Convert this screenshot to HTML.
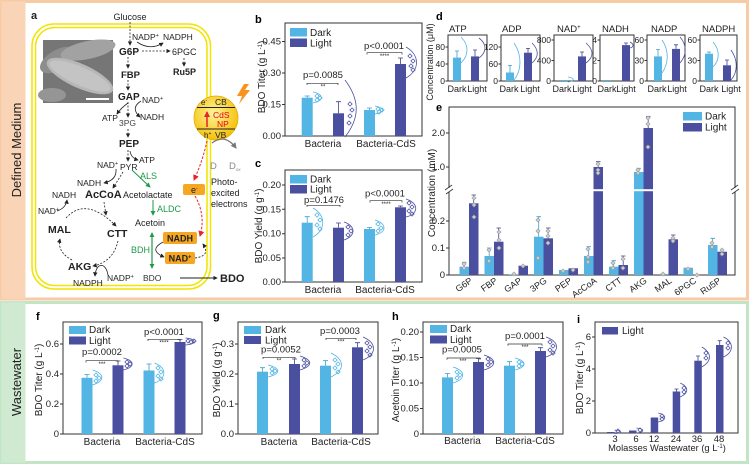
<!DOCTYPE html>
<html><head><meta charset="utf-8"><title>Figure</title>
<style>
html,body{margin:0;padding:0;background:#fff;width:750px;height:467px;overflow:hidden}
svg{display:block;font-family:"Liberation Sans",Arial,sans-serif}
.ax{fill:none;stroke:#333;stroke-width:1}
.tk{font-size:9.5px;fill:#222}
.tks{font-size:8.5px;fill:#222}
.dk{fill:#53b5e4}
.lt{fill:#4b4fa0}
.ed{stroke:#3a9fd0;stroke-width:0.8;fill:none}
.el{stroke:#3c418f;stroke-width:0.8;fill:none}
.vd{stroke:#53b5e4;stroke-width:0.8;fill:none}
.vl{stroke:#4b4fa0;stroke-width:0.8;fill:none}
.br{stroke:#333;stroke-width:0.7;fill:none}
.pl{font-size:9.5px;fill:#222;text-anchor:middle}
.st{font-size:6px;fill:#222;text-anchor:middle}
.lg{font-size:10px;fill:#222}
.xl{font-size:10px;fill:#222;text-anchor:middle}
.yl{font-size:10px;fill:#222;text-anchor:middle}
.dsh{stroke:#222;stroke-width:0.8;fill:none;stroke-dasharray:2 1.5}
.ln{stroke:#222;stroke-width:0.8;fill:none}
.gd{fill:#cfcfcf;stroke:#9a9a9a;stroke-width:0.6}
</style></head><body>
<svg width="750" height="467" viewBox="0 0 750 467" xmlns="http://www.w3.org/2000/svg">
<defs>
<marker id="ah" viewBox="0 0 6 6" refX="5" refY="3" markerUnits="userSpaceOnUse" markerWidth="4.5" markerHeight="4.5" orient="auto"><path d="M0,0L6,3L0,6Z" fill="#222"/></marker>
<marker id="ahr" viewBox="0 0 6 6" refX="5" refY="3" markerUnits="userSpaceOnUse" markerWidth="6" markerHeight="6" orient="auto"><path d="M0,0L6,3L0,6Z" fill="#e8242a"/></marker>
<marker id="ahg" viewBox="0 0 6 6" refX="5" refY="3" markerUnits="userSpaceOnUse" markerWidth="5" markerHeight="5" orient="auto-start-reverse"><path d="M0,0L6,3L0,6Z" fill="#1f9a48"/></marker>
<marker id="ahy" viewBox="0 0 6 6" refX="5" refY="3" markerUnits="userSpaceOnUse" markerWidth="6" markerHeight="6" orient="auto"><path d="M0,0L6,3L0,6Z" fill="#777"/></marker>
<radialGradient id="cds" cx="45%" cy="40%" r="65%"><stop offset="0" stop-color="#fff59a"/><stop offset="1" stop-color="#f3bb00"/></radialGradient>
<path id="dm" d="M0,-2.1L2.1,0L0,2.1L-2.1,0Z"/>
</defs>
<rect width="750" height="467" fill="#fff"/>

<!-- ===== Top section frame ===== -->
<rect x="1.5" y="1.5" width="746" height="297.5" fill="#fff" stroke="#f7cba6" stroke-width="3"/>
<rect x="1.5" y="1.5" width="24" height="297.5" fill="#f9d4b6"/>
<text transform="translate(21,150) rotate(-90)" text-anchor="middle" font-size="13" fill="#222">Defined Medium</text>

<!-- ===== Bottom section frame ===== -->
<rect x="1.5" y="302.5" width="746" height="160" fill="#fff" stroke="#c3e5c5" stroke-width="3"/>
<rect x="1.5" y="302.5" width="24" height="160" fill="#d0ead1"/>
<text transform="translate(21,382) rotate(-90)" text-anchor="middle" font-size="13" fill="#222">Wastewater</text>

<!-- ===== Panel a ===== -->
<rect x="32" y="24" width="178.5" height="265" rx="22" fill="none" stroke="#f2e400" stroke-width="1.5"/>
<rect x="35.5" y="27.5" width="171.5" height="258" rx="19" fill="none" stroke="#f2e400" stroke-width="1.5"/>
<!-- SEM image -->
<rect x="43" y="40" width="70" height="63" fill="#767676"/>
<ellipse cx="58" cy="60" rx="20" ry="10" transform="rotate(-30 58 60)" fill="#8d8d8d"/>
<ellipse cx="88" cy="50" rx="28" ry="9" transform="rotate(-12 88 50)" fill="#a2a2a2"/>
<ellipse cx="80" cy="76" rx="36" ry="12" transform="rotate(24 80 76)" fill="#b7b7b7"/>
<ellipse cx="80" cy="76" rx="33" ry="9" transform="rotate(24 80 76)" fill="#c4c4c4"/>
<ellipse cx="52" cy="95" rx="14" ry="7" fill="#959595"/>
<line x1="86" y1="99" x2="109" y2="99" stroke="#fff" stroke-width="2"/>

<g font-size="9" fill="#222">
<text x="31" y="19" font-size="11" font-weight="bold">a</text>
<text x="130" y="20" text-anchor="middle">Glucose</text>
<text x="132" y="40" font-size="8.5">NADP<tspan font-size="5.5" dy="-3">+</tspan></text>
<text x="163" y="40" font-size="8.5">NADPH</text>
<text x="119" y="55" font-size="10" font-weight="bold">G6P</text>
<text x="172" y="55">6PGC</text>
<text x="173" y="75" font-weight="bold">Ru5P</text>
<text x="121" y="78" font-size="9.5" font-weight="bold">FBP</text>
<text x="118" y="100" font-size="10" font-weight="bold">GAP</text>
<text x="142" y="103" font-size="8.5">NAD<tspan font-size="5.5" dy="-3">+</tspan></text>
<text x="102" y="121" font-size="8.5">ATP</text>
<text x="140" y="120" font-size="8.5">NADH</text>
<text x="119" y="126" font-size="8.5" fill="#444">3PG</text>
<text x="119" y="147" font-size="10" font-weight="bold">PEP</text>
<text x="139" y="163" font-size="8.5">ATP</text>
<text x="97" y="168" font-size="8.5">NAD<tspan font-size="5.5" dy="-3">+</tspan></text>
<text x="120" y="170" font-size="8.5">PYR</text>
<text x="140" y="179" fill="#1f9a48">ALS</text>
<text x="77" y="186" font-size="8.5">NADH</text>
<text x="52" y="198" font-size="8.5">NADH</text>
<text x="85" y="198" font-size="11" font-weight="bold">AcCoA</text>
<text x="123" y="198">Acetolactate</text>
<text x="38" y="214" font-size="8.5">NAD<tspan font-size="5.5" dy="-3">+</tspan></text>
<text x="48" y="233" font-size="10.5" font-weight="bold">MAL</text>
<text x="107" y="237" font-size="10.5" font-weight="bold">CTT</text>
<text x="157" y="212" fill="#1f9a48">ALDC</text>
<text x="135" y="226">Acetoin</text>
<text x="131" y="253" fill="#1f9a48">BDH</text>
<text x="68" y="270" font-size="10.5" font-weight="bold">AKG</text>
<text x="73" y="286" font-size="8.5">NADPH</text>
<text x="107" y="281" font-size="8.5">NADP<tspan font-size="5.5" dy="-3">+</tspan></text>
<text x="143" y="281" font-size="8.5" fill="#333">BDO</text>
<text x="220" y="282" font-size="11" font-weight="bold">BDO</text>
<text x="211" y="185">Photo-</text>
<text x="211" y="196">excited</text>
<text x="211" y="207">electrons</text>
</g>
<!-- pathway arrows -->
<line x1="130" y1="22" x2="130" y2="45" class="dsh" marker-end="url(#ah)"/>
<path d="M137,42 Q150,51 163,43" class="ln" marker-end="url(#ah)"/>
<line x1="142" y1="51" x2="170" y2="51" class="dsh" marker-end="url(#ah)"/>
<line x1="184" y1="58" x2="184" y2="66" class="dsh" marker-end="url(#ah)"/>
<line x1="128" y1="57" x2="128" y2="68" class="dsh" marker-end="url(#ah)"/>
<line x1="128" y1="80" x2="128" y2="90" class="dsh" marker-end="url(#ah)"/>
<line x1="128" y1="102" x2="128" y2="117" class="dsh" marker-end="url(#ah)"/>
<path d="M141,101 Q130,108 140,117" class="ln" marker-end="url(#ah)"/>
<path d="M128,103 Q121,108 117,114" class="ln" marker-end="url(#ah)"/>
<line x1="128" y1="129" x2="128" y2="137" class="dsh" marker-end="url(#ah)"/>
<line x1="128" y1="150" x2="128" y2="161" class="dsh" marker-end="url(#ah)"/>
<path d="M130,151 Q131,158 138,160" class="ln" marker-end="url(#ah)"/>
<line x1="123" y1="172" x2="113" y2="188" class="dsh" marker-end="url(#ah)"/>
<path d="M116,169 Q117,180 104,183" class="ln" marker-end="url(#ah)"/>
<path d="M57,211 Q66,208 67,200" class="ln" marker-end="url(#ah)"/>
<line x1="104" y1="202" x2="106" y2="215" class="dsh" marker-end="url(#ah)"/>
<path d="M66,218 Q86,196 116,226" class="dsh" marker-end="url(#ah)"/>
<path d="M118,241 Q113,262 93,266" class="dsh" marker-end="url(#ah)"/>
<path d="M72,260 Q57,252 60,239" class="dsh" marker-end="url(#ah)"/>
<path d="M108,275 C106,262 96,262 95,276" class="ln" marker-end="url(#ah)"/>
<line x1="180" y1="278" x2="217" y2="278" stroke="#222" stroke-width="0.9" marker-end="url(#ah)"/>
<!-- green -->
<line x1="132" y1="170" x2="150" y2="187" stroke="#1f9a48" stroke-width="1" marker-end="url(#ahg)"/>
<line x1="153" y1="200" x2="153" y2="215" stroke="#1f9a48" stroke-width="1" marker-end="url(#ahg)"/>
<line x1="152" y1="233" x2="152" y2="268" stroke="#1f9a48" stroke-width="1.2" marker-start="url(#ahg)" marker-end="url(#ahg)"/>
<!-- NADH / NAD+ boxes -->
<rect x="163" y="232" width="34" height="12" rx="2" fill="#f5a623"/>
<text x="180" y="241.5" text-anchor="middle" font-size="9" font-weight="bold" fill="#222">NADH</text>
<rect x="165" y="252" width="30" height="12" rx="2" fill="#f5a623"/>
<text x="180" y="261.5" text-anchor="middle" font-size="9" font-weight="bold" fill="#222">NAD<tspan font-size="5.5" dy="-3">+</tspan></text>
<path d="M163,242 Q148,250 164,257" class="ln" marker-end="url(#ah)"/>
<path d="M195,258 Q211,256 203,244" class="dsh" marker-end="url(#ah)"/>
<!-- e- box -->
<rect x="183" y="184" width="22" height="11" rx="2" fill="#f5a623"/>
<text x="191" y="193" font-size="9" fill="#222">e<tspan font-size="5.5" dy="-3">-</tspan></text>
<path d="M207,141 Q203,160 194,180" fill="none" stroke="#e8242a" stroke-width="1" stroke-dasharray="2.5 1.5" marker-end="url(#ahr)"/>
<path d="M195,196 Q206,215 200,236" fill="none" stroke="#e8242a" stroke-width="1" stroke-dasharray="2.5 1.5" marker-end="url(#ahr)"/>
<!-- CdS -->
<polygon points="244,84 237,96 242,96 239,104 250,90 245,90 249,84" fill="#f7931e"/>
<circle cx="216" cy="118" r="22" fill="url(#cds)" stroke="#e5b000" stroke-width="0.8"/>
<line x1="197" y1="107.5" x2="235" y2="107.5" stroke="#222" stroke-width="1"/>
<line x1="197" y1="129" x2="235" y2="129" stroke="#222" stroke-width="1"/>
<text x="201" y="105" font-size="8" fill="#222">e<tspan font-size="5" dy="-3">-</tspan></text>
<text x="215" y="105" font-size="8.5" fill="#222">CB</text>
<line x1="207" y1="127" x2="207" y2="112" stroke="#e8001c" stroke-width="1.3" marker-end="url(#ahr)"/>
<text x="213" y="118" font-size="8.5" fill="#e8001c">CdS</text>
<text x="217" y="127" font-size="8.5" fill="#e8001c">NP</text>
<text x="204" y="138" font-size="8" fill="#222">h<tspan font-size="5" dy="-3">+</tspan></text>
<text x="215" y="138" font-size="8.5" fill="#222">VB</text>
<path d="M212,143 Q225,133 236,148" fill="none" stroke="#777" stroke-width="1.3" marker-end="url(#ahy)"/>
<text x="210" y="169" font-size="9.5" fill="#888">D</text>
<text x="229" y="169" font-size="9.5" fill="#888">D<tspan font-size="4.5" dy="2">ox</tspan></text>

<!-- ===== Panel b ===== -->
<text x="255" y="23" font-size="11" font-weight="bold">b</text>
<rect x="285" y="23" width="137" height="113" class="ax"/>
<path d="M285,136h-3M285,104.5h-3M285,73h-3M285,41.5h-3" class="ax"/>
<g class="tk" text-anchor="end"><text x="281" y="139">0.00</text><text x="281" y="107.5">0.15</text><text x="281" y="76">0.30</text><text x="281" y="44.5">0.45</text></g>
<text transform="translate(265,77) rotate(-90)" class="yl">BDO Titer (g L<tspan font-size="6" dy="-3">-1</tspan><tspan dy="3">)</tspan></text>
<rect x="301.7" y="97.7" width="11" height="38.3" class="dk"/>
<rect x="333" y="113.3" width="11" height="22.7" class="lt"/>
<rect x="364" y="110" width="11" height="26" class="dk"/>
<rect x="395" y="64" width="11" height="72" class="lt"/>
<path d="M307.2,97.7V96M304.7,96h5" class="ed"/>
<path d="M338.5,113.3V101.7M336,101.7h5" class="el"/>
<path d="M369.5,110V108M367,108h5" class="ed"/>
<path d="M400.5,64V58M398,58h5" class="el"/>
<path d="M313,92 C324,94 324,101 313,103" class="vd"/>
<use href="#dm" x="317" y="96" class="vd"/><use href="#dm" x="320" y="98" class="vd"/><use href="#dm" x="317" y="100" class="vd"/>
<path d="M345,80 C360,100 360,118 345,137" class="vl"/>
<use href="#dm" x="350" y="104" class="vl"/><use href="#dm" x="352" y="110" class="vl"/><use href="#dm" x="350" y="116" class="vl"/><use href="#dm" x="349" y="123" class="vl"/>
<path d="M375,106 C385,108 385,112 375,114" class="vd"/>
<use href="#dm" x="378" y="109" class="vd"/><use href="#dm" x="382" y="110" class="vd"/><use href="#dm" x="379" y="112" class="vd"/>
<path d="M406,47 C420,55 420,70 406,78" class="vl"/>
<use href="#dm" x="410" y="56" class="vl"/><use href="#dm" x="413" y="61" class="vl"/><use href="#dm" x="411" y="66" class="vl"/><use href="#dm" x="413" y="70" class="vl"/>
<rect x="290" y="28" width="17" height="8.5" class="dk"/><text x="310" y="36" class="lg">Dark</text>
<rect x="290" y="38.5" width="17" height="8.5" class="lt"/><text x="310" y="46.5" class="lg">Light</text>
<text x="323" y="78" class="pl">p=0.0085</text>
<path d="M307,85V83.3H338V85" class="br"/><text x="323" y="88.5" class="st">**</text>
<text x="384" y="49" class="pl">p&lt;0.0001</text>
<path d="M367,54.5V52.7H402V54.5" class="br"/><text x="384.5" y="58" class="st">****</text>
<text x="323" y="147" class="xl">Bacteria</text>
<text x="386" y="147" class="xl">Bacteria-CdS</text>

<!-- ===== Panel c ===== -->
<text x="255" y="167" font-size="11" font-weight="bold">c</text>
<rect x="285" y="170" width="137" height="112" class="ax"/>
<path d="M285,282h-3M285,258h-3M285,233.7h-3M285,209.3h-3M285,185h-3" class="ax"/>
<g class="tk" text-anchor="end"><text x="281" y="285">0.00</text><text x="281" y="261">0.05</text><text x="281" y="236.7">0.10</text><text x="281" y="212.3">0.15</text><text x="281" y="188">0.20</text></g>
<text transform="translate(262,226) rotate(-90)" class="yl">BDO Yield (g g<tspan font-size="6" dy="-3">-1</tspan><tspan dy="3">)</tspan></text>
<rect x="301.7" y="222.7" width="11" height="59.3" class="dk"/>
<rect x="333" y="227.7" width="11" height="54.3" class="lt"/>
<rect x="364" y="229" width="11" height="53" class="dk"/>
<rect x="395" y="207.3" width="11" height="74.7" class="lt"/>
<path d="M307.2,222.7V216.7M304.7,216.7h5" class="ed"/>
<path d="M338.5,227.7V223M336,223h5" class="el"/>
<path d="M369.5,229V227.5M367,227.5h5" class="ed"/>
<path d="M400.5,207.3V206M398,206h5" class="el"/>
<path d="M313,208 C326,215 326,230 313,237" class="vd"/>
<use href="#dm" x="317" y="215" class="vd"/><use href="#dm" x="320" y="220" class="vd"/><use href="#dm" x="317" y="225" class="vd"/><use href="#dm" x="320" y="229" class="vd"/>
<path d="M344,222 C356,226 356,236 344,240" class="vl"/>
<use href="#dm" x="348" y="227" class="vl"/><use href="#dm" x="351" y="231" class="vl"/><use href="#dm" x="348" y="235" class="vl"/>
<path d="M375,220 C387,224 387,232 375,235" class="vd"/>
<use href="#dm" x="378" y="224" class="vd"/><use href="#dm" x="381" y="228" class="vd"/><use href="#dm" x="378" y="231" class="vd"/>
<path d="M406,199 C419,203 419,214 406,217" class="vl"/>
<use href="#dm" x="409" y="203" class="vl"/><use href="#dm" x="412" y="207" class="vl"/><use href="#dm" x="409" y="211" class="vl"/><use href="#dm" x="412" y="214" class="vl"/>
<rect x="290" y="175" width="17" height="8.5" class="dk"/><text x="310" y="182.5" class="lg">Dark</text>
<rect x="290" y="185" width="17" height="8.5" class="lt"/><text x="310" y="192.5" class="lg">Light</text>
<text x="324" y="203" class="pl">p=0.1476</text>
<path d="M307,207V205.3H340V207" class="br"/>
<text x="385" y="196.7" class="pl">p&lt;0.0001</text>
<path d="M370,202.5V200.7H402V202.5" class="br"/><text x="386" y="206" class="st">****</text>
<text x="323" y="293" class="xl">Bacteria</text>
<text x="385" y="293" class="xl">Bacteria-CdS</text>

<!-- ===== Panel d ===== -->
<text x="436" y="20" font-size="11" font-weight="bold">d</text>
<text transform="translate(433,62) rotate(-90)" font-size="9" text-anchor="middle" fill="#222">Concentration (μM)</text>
<g font-size="9.5" fill="#222">
<text x="449" y="32">ATP</text><text x="502" y="32">ADP</text><text x="557" y="32">NAD<tspan font-size="6" dy="-3">+</tspan></text>
<text x="602" y="32">NADH</text><text x="651" y="32">NADP</text><text x="702" y="32">NADPH</text>
</g>
<g class="ax">
<rect x="448" y="35" width="39" height="46"/><rect x="501" y="35" width="39" height="46"/><rect x="554" y="35" width="39" height="46"/>
<rect x="600" y="35" width="34" height="46"/><rect x="647" y="35" width="38" height="46"/><rect x="700" y="35" width="37" height="46"/>
<path d="M448,81h-2.5M448,64h-2.5M448,47h-2.5M501,81h-2.5M501,64h-2.5M501,47h-2.5M554,81h-2.5M554,60.5h-2.5M554,40h-2.5M600,81h-2.5M600,60.5h-2.5M600,40h-2.5M647,81h-2.5M647,60.5h-2.5M647,40h-2.5M700,81h-2.5M700,60.5h-2.5M700,40h-2.5"/>
</g>
<g class="tks" text-anchor="end">
<text x="445" y="84">0</text><text x="445" y="67">40</text><text x="445" y="50">80</text>
<text x="498" y="84">0</text><text x="498" y="67">60</text><text x="498" y="50">120</text>
<text x="551" y="84">0</text><text x="551" y="63.5">400</text><text x="551" y="43">800</text>
<text x="597" y="84">0</text><text x="597" y="63.5">2</text><text x="597" y="43">4</text>
<text x="644" y="84">0</text><text x="644" y="63.5">30</text><text x="644" y="43">60</text>
<text x="697" y="84">0</text><text x="697" y="63.5">30</text><text x="697" y="43">60</text>
</g>
<rect x="453" y="57.6" width="8" height="23.4" class="dk"/><rect x="471" y="56.4" width="8" height="24.6" class="lt"/>
<rect x="506" y="72.5" width="8" height="8.5" class="dk"/><rect x="524" y="52.7" width="8" height="28.3" class="lt"/>
<rect x="560" y="80" width="8" height="1" class="dk"/><rect x="578" y="56.4" width="8" height="24.6" class="lt"/>
<rect x="603" y="80" width="8" height="1" class="dk"/><rect x="622" y="45.1" width="8" height="35.9" class="lt"/>
<rect x="654" y="56.4" width="8" height="24.6" class="dk"/><rect x="672" y="48.9" width="8" height="32.1" class="lt"/>
<rect x="705" y="53.7" width="8" height="27.3" class="dk"/><rect x="723" y="65.3" width="8" height="15.7" class="lt"/>
<path d="M457,57.6V51M455,51h4M510,72.5V65.4M508,65.4h4M658,56.4V49.6M656,49.6h4M709,53.7V52M707,52h4" class="ed"/>
<path d="M475,56.4V50M473,50h4M528,52.7V48.4M526,48.4h4M582,56.4V52M580,52h4M626,45.1V43M624,43h4M676,48.9V44.8M674,44.8h4M727,65.3V60M725,60h4" class="el"/>
<path d="M461,37 C469,45 469,55 461,63M514,43 C522,55 522,70 514,80M568,77 C575,78 575,81 568,82M662,40 C669,50 669,63 662,73M713,42 C720,50 720,60 713,67" class="vd"/>
<path d="M479,38 C487,44 487,52 479,58M532,43 C539,50 539,57 532,63M586,43 C594,50 594,57 586,63M630,42 C634,44 634,47 630,48M680,37 C687,45 687,55 680,63M731,50 C738,60 738,72 731,80" class="vl"/>
<g font-size="9" fill="#222" text-anchor="middle">
<text x="457" y="92">Dark</text><text x="477" y="92">Light</text>
<text x="509" y="92">Dark</text><text x="530" y="92">Light</text>
<text x="562" y="92">Dark</text><text x="582" y="92">Light</text>
<text x="607" y="92">Dark</text><text x="626" y="92">Light</text>
<text x="657" y="92">Dark</text><text x="677" y="92">Light</text>
<text x="709" y="92">Dark</text><text x="731" y="92">Light</text>
</g>

<!-- ===== Panel e ===== -->
<text x="436" y="111" font-size="11" font-weight="bold">e</text>
<text transform="translate(435,193) rotate(-90)" class="yl">Concentration (mM)</text>
<rect x="449" y="107" width="286" height="168" class="ax"/>
<path d="M449,133h-3M449,167h-3M449,221h-3M449,248h-3M449,275h-3" class="ax"/>
<g class="tk" text-anchor="end"><text x="445" y="136">2.0</text><text x="445" y="170">1.0</text><text x="445" y="224">0.2</text><text x="445" y="251">0.1</text><text x="445" y="278">0</text></g>
<!-- bars -->
<rect x="459.5" y="266.7" width="9.5" height="8.3" class="dk"/><rect x="469" y="203.3" width="9.5" height="71.7" class="lt"/>
<rect x="484.5" y="256" width="9.5" height="19" class="dk"/><rect x="494" y="241.7" width="9.5" height="33.3" class="lt"/>
<rect x="509" y="274.3" width="9.5" height="0.7" class="dk"/><rect x="518.5" y="265.7" width="9.5" height="9.3" class="lt"/>
<rect x="534" y="236.7" width="9.5" height="38.3" class="dk"/><rect x="543.5" y="238.3" width="9.5" height="36.7" class="lt"/>
<rect x="559" y="270" width="9.5" height="5" class="dk"/><rect x="568.5" y="268.3" width="9.5" height="6.7" class="lt"/>
<rect x="584" y="256" width="9.5" height="19" class="dk"/><rect x="593.5" y="167" width="9.5" height="108" class="lt"/>
<rect x="609" y="266.7" width="9.5" height="8.3" class="dk"/><rect x="618.5" y="265" width="9.5" height="10" class="lt"/>
<rect x="634" y="172" width="9.5" height="103" class="dk"/><rect x="643.5" y="128" width="9.5" height="147" class="lt"/>
<rect x="659" y="274" width="9.5" height="1" class="dk"/><rect x="668.5" y="239.3" width="9.5" height="35.7" class="lt"/>
<rect x="683.5" y="267.7" width="9.5" height="7.3" class="dk"/>
<rect x="708" y="245" width="9.5" height="30" class="dk"/><rect x="717.5" y="251.7" width="9.5" height="23.3" class="lt"/>
<!-- break -->
<rect x="450" y="189.2" width="284" height="2" fill="#fff"/>
<rect x="446" y="188" width="6" height="4" fill="#fff"/><rect x="732" y="188" width="6" height="4" fill="#fff"/>
<path d="M445,190L452,185M446,194L453,189M731,190L738,185M732,194L739,189" stroke="#333" stroke-width="0.8"/>
<!-- error bars -->
<path d="M464.2,266.7V262.3M462,262.3h4.5M489.2,256V248M487,248h4.5M538.7,236.7V216.7M536.5,216.7h4.5M588.7,256V246.7M586.5,246.7h4.5M613.7,266.7V260.7M611.5,260.7h4.5M638.7,172V168.3M636.5,168.3h4.5M712.7,245V238.3M710.5,238.3h4.5" class="ed"/>
<path d="M473.7,203.3V195M471.5,195h4.5M498.7,241.7V228M496.5,228h4.5M548.2,238.3V228M546,228h4.5M598.2,167V161.7M596,161.7h4.5M623.2,265V256M621,256h4.5M648.2,128V116.7M646,116.7h4.5M673.2,239.3V235M671,235h4.5" class="el"/>
<!-- gray scatter -->
<g class="gd">
<use href="#dm" x="464" y="268"/><use href="#dm" x="464" y="264"/>
<use href="#dm" x="474" y="198"/><use href="#dm" x="474" y="205"/><use href="#dm" x="474" y="217"/>
<use href="#dm" x="489" y="250"/><use href="#dm" x="489" y="261"/>
<use href="#dm" x="499" y="232"/><use href="#dm" x="499" y="240"/><use href="#dm" x="499" y="248"/>
<use href="#dm" x="514" y="274"/><use href="#dm" x="523" y="266"/>
<use href="#dm" x="538" y="220"/><use href="#dm" x="538" y="231"/><use href="#dm" x="538" y="258"/>
<use href="#dm" x="548" y="231"/><use href="#dm" x="548" y="236"/><use href="#dm" x="548" y="243"/>
<use href="#dm" x="563" y="271"/><use href="#dm" x="573" y="270"/>
<use href="#dm" x="588" y="249"/><use href="#dm" x="588" y="257"/><use href="#dm" x="588" y="262"/>
<use href="#dm" x="598" y="164"/><use href="#dm" x="598" y="170"/><use href="#dm" x="598" y="173"/>
<use href="#dm" x="613" y="263"/><use href="#dm" x="613" y="268"/><use href="#dm" x="623" y="259"/><use href="#dm" x="623" y="268"/>
<use href="#dm" x="638" y="170"/><use href="#dm" x="638" y="173"/>
<use href="#dm" x="648" y="118"/><use href="#dm" x="648" y="124"/><use href="#dm" x="648" y="147"/>
<use href="#dm" x="663" y="274"/><use href="#dm" x="673" y="238"/><use href="#dm" x="673" y="241"/>
<use href="#dm" x="688" y="269"/><use href="#dm" x="697" y="275"/>
<use href="#dm" x="712" y="243"/><use href="#dm" x="712" y="247"/><use href="#dm" x="722" y="250"/><use href="#dm" x="722" y="254"/>
</g>
<!-- legend -->
<rect x="683" y="112" width="19" height="8.5" class="dk"/><text x="705" y="119.5" class="lg">Dark</text>
<rect x="683" y="123" width="19" height="8.5" class="lt"/><text x="705" y="130.5" class="lg">Light</text>
<!-- x labels -->
<g font-size="9" fill="#222" text-anchor="end">
<text transform="translate(473,282) rotate(-35)">G6P</text>
<text transform="translate(498,282) rotate(-35)">FBP</text>
<text transform="translate(522.5,282) rotate(-35)">GAP</text>
<text transform="translate(547.5,282) rotate(-35)">3PG</text>
<text transform="translate(572.5,282) rotate(-35)">PEP</text>
<text transform="translate(597.5,282) rotate(-35)">AcCoA</text>
<text transform="translate(622.5,282) rotate(-35)">CTT</text>
<text transform="translate(647.5,282) rotate(-35)">AKG</text>
<text transform="translate(672.5,282) rotate(-35)">MAL</text>
<text transform="translate(697,282) rotate(-35)">6PGC</text>
<text transform="translate(721.5,282) rotate(-35)">Ru5P</text>
</g>

<!-- ===== Panel f ===== -->
<text x="36" y="320" font-size="11" font-weight="bold">f</text>
<rect x="63" y="322" width="139" height="112" class="ax"/>
<path d="M63,434h-3M63,404h-3M63,374h-3M63,344h-3" class="ax"/>
<g class="tk" text-anchor="end"><text x="59" y="437">0</text><text x="59" y="407">0.2</text><text x="59" y="377">0.4</text><text x="59" y="347">0.6</text></g>
<text transform="translate(42,380) rotate(-90)" class="yl">BDO Titer (g L<tspan font-size="6" dy="-3">-1</tspan><tspan dy="3">)</tspan></text>
<rect x="81.5" y="377.8" width="11" height="56.2" class="dk"/>
<rect x="112.5" y="365.3" width="11" height="68.7" class="lt"/>
<rect x="143.5" y="370.5" width="11" height="63.5" class="dk"/>
<rect x="174.5" y="342" width="11" height="92" class="lt"/>
<path d="M87,377.8V374.5M84.5,374.5h5M149,370.5V364M146.5,364h5" class="ed"/>
<path d="M118,365.3V361M115.5,361h5M180,342V339.5M177.5,339.5h5" class="el"/>
<path d="M92.5,370 C105,374 105,381 92.5,385M154.5,363 C167,368 167,378 154.5,383" class="vd"/>
<path d="M123.5,358 C135,361 135,367 123.5,370M185.5,338 C197,339 197,344 185.5,345" class="vl"/>
<g class="vd"><use href="#dm" x="96" y="375"/><use href="#dm" x="99" y="378"/><use href="#dm" x="96" y="381"/><use href="#dm" x="158" y="368"/><use href="#dm" x="161" y="372"/><use href="#dm" x="158" y="376"/><use href="#dm" x="161" y="379"/></g>
<g class="vl"><use href="#dm" x="127" y="362"/><use href="#dm" x="130" y="364"/><use href="#dm" x="127" y="366"/><use href="#dm" x="188" y="341"/><use href="#dm" x="191" y="342"/><use href="#dm" x="194" y="341"/></g>
<rect x="69" y="326" width="17" height="8" class="dk"/><text x="89" y="333" class="lg">Dark</text>
<rect x="69" y="336.5" width="17" height="8" class="lt"/><text x="89" y="344" class="lg">Light</text>
<text x="102" y="355" class="pl">p=0.0002</text>
<path d="M86,362.5V360.7H118V362.5" class="br"/><text x="102" y="366" class="st">***</text>
<text x="164" y="335" class="pl">p&lt;0.0001</text>
<path d="M148,341V339.3H180V341" class="br"/><text x="164" y="344.5" class="st">****</text>
<text x="102" y="445" class="xl">Bacteria</text>
<text x="165" y="445" class="xl">Bacteria-CdS</text>

<!-- ===== Panel g ===== -->
<text x="213" y="319" font-size="11" font-weight="bold">g</text>
<rect x="238" y="322" width="140" height="112" class="ax"/>
<path d="M238,434h-3M238,404h-3M238,374h-3M238,344h-3" class="ax"/>
<g class="tk" text-anchor="end"><text x="234" y="437">0.0</text><text x="234" y="407">0.1</text><text x="234" y="377">0.2</text><text x="234" y="347">0.3</text></g>
<text transform="translate(220,380) rotate(-90)" class="yl">BDO Yield (g g<tspan font-size="6" dy="-3">-1</tspan><tspan dy="3">)</tspan></text>
<rect x="257" y="371.7" width="11" height="62.3" class="dk"/>
<rect x="289" y="364" width="11" height="70" class="lt"/>
<rect x="320" y="365.7" width="11" height="68.3" class="dk"/>
<rect x="352" y="347.3" width="11" height="86.7" class="lt"/>
<path d="M262.5,371.7V367.7M260,367.7h5M325.5,365.7V360.7M323,360.7h5" class="ed"/>
<path d="M294.5,364V359M292,359h5M357.5,347.3V342.7M355,342.7h5" class="el"/>
<path d="M268,365 C281,368 281,374 268,377M331,353 C345,360 345,370 331,377" class="vd"/>
<path d="M300,356 C313,360 313,366 300,370M363,337 C377,343 377,354 363,360" class="vl"/>
<g class="vd"><use href="#dm" x="272" y="369"/><use href="#dm" x="275" y="371"/><use href="#dm" x="272" y="373"/><use href="#dm" x="335" y="360"/><use href="#dm" x="338" y="364"/><use href="#dm" x="335" y="368"/><use href="#dm" x="338" y="372"/></g>
<g class="vl"><use href="#dm" x="304" y="360"/><use href="#dm" x="307" y="363"/><use href="#dm" x="304" y="366"/><use href="#dm" x="367" y="343"/><use href="#dm" x="370" y="347"/><use href="#dm" x="367" y="351"/><use href="#dm" x="370" y="355"/></g>
<rect x="244" y="326" width="17" height="8" class="dk"/><text x="265" y="333" class="lg">Dark</text>
<rect x="244" y="336" width="17" height="8" class="lt"/><text x="265" y="343.5" class="lg">Light</text>
<text x="281" y="352.5" class="pl">p=0.0052</text>
<path d="M263,359V357.3H295V359" class="br"/><text x="279" y="362.5" class="st">**</text>
<text x="340" y="334" class="pl">p=0.0003</text>
<path d="M326,340V338.3H356V340" class="br"/><text x="341" y="343.5" class="st">***</text>
<text x="279" y="445" class="xl">Bacteria</text>
<text x="341" y="445" class="xl">Bacteria-CdS</text>

<!-- ===== Panel h ===== -->
<text x="392" y="320" font-size="11" font-weight="bold">h</text>
<rect x="423" y="322" width="140" height="112" class="ax"/>
<path d="M423,434h-3M423,408.5h-3M423,383h-3M423,357.5h-3M423,332h-3" class="ax"/>
<g class="tk" text-anchor="end"><text x="419" y="437">0</text><text x="419" y="411.5">0.05</text><text x="419" y="386">0.10</text><text x="419" y="360.5">0.15</text><text x="419" y="335">0.20</text></g>
<text transform="translate(399,380) rotate(-90)" class="yl">Acetoin Titer (g L<tspan font-size="6" dy="-3">-1</tspan><tspan dy="3">)</tspan></text>
<rect x="442" y="377.4" width="11" height="56.6" class="dk"/>
<rect x="473" y="362" width="11" height="72" class="lt"/>
<rect x="504" y="365.7" width="11" height="68.3" class="dk"/>
<rect x="535" y="351" width="11" height="83" class="lt"/>
<path d="M447.5,377.4V373.5M445,373.5h5M509.5,365.7V361.7M507,361.7h5" class="ed"/>
<path d="M478.5,362V358.5M476,358.5h5M540.5,351V347.7M538,347.7h5" class="el"/>
<path d="M453,367 C466,371 466,379 453,383M515,358 C527,361 527,367 515,370" class="vd"/>
<path d="M484,355 C497,359 497,366 484,370M546,337 C560,342 560,352 546,357" class="vl"/>
<g class="vd"><use href="#dm" x="457" y="372"/><use href="#dm" x="460" y="375"/><use href="#dm" x="457" y="378"/><use href="#dm" x="519" y="362"/><use href="#dm" x="522" y="364"/><use href="#dm" x="519" y="366"/></g>
<g class="vl"><use href="#dm" x="488" y="359"/><use href="#dm" x="491" y="362"/><use href="#dm" x="488" y="365"/><use href="#dm" x="550" y="342"/><use href="#dm" x="553" y="346"/><use href="#dm" x="550" y="350"/><use href="#dm" x="553" y="353"/></g>
<rect x="430" y="325" width="17" height="8" class="dk"/><text x="450" y="332" class="lg">Dark</text>
<rect x="430" y="335.5" width="17" height="8" class="lt"/><text x="450" y="343" class="lg">Light</text>
<text x="462" y="352.5" class="pl">p=0.0005</text>
<path d="M447,359.7V358H480V359.7" class="br"/><text x="463" y="363" class="st">***</text>
<text x="525" y="339" class="pl">p=0.0001</text>
<path d="M508,345.7V344H542V345.7" class="br"/><text x="525" y="349" class="st">***</text>
<text x="462.5" y="444" class="xl">Bacteria</text>
<text x="525" y="444" class="xl">Bacteria-CdS</text>

<!-- ===== Panel i ===== -->
<text x="577" y="323" font-size="11" font-weight="bold">i</text>
<rect x="595" y="322" width="143" height="111" class="ax"/>
<path d="M595,433h-3M595,401h-3M595,369h-3M595,337h-3" class="ax"/>
<g class="tk" text-anchor="end"><text x="591" y="436">0</text><text x="591" y="404">2</text><text x="591" y="372">4</text><text x="591" y="340">6</text></g>
<text transform="translate(583,378) rotate(-90)" class="yl">BDO Titer (g L<tspan font-size="6" dy="-3">-1</tspan><tspan dy="3">)</tspan></text>
<rect x="607" y="432" width="7.5" height="1" class="lt"/>
<rect x="629" y="430.5" width="7.5" height="2.5" class="lt"/>
<rect x="650.7" y="417.5" width="7.5" height="15.5" class="lt"/>
<rect x="672.7" y="391.5" width="7.5" height="41.5" class="lt"/>
<rect x="694.3" y="360.7" width="7.5" height="72.3" class="lt"/>
<rect x="716" y="345" width="7.5" height="88" class="lt"/>
<path d="M676.5,391.5V389M674.5,389h4M698,360.7V356M696,356h4M719.7,345V340.7M717.7,340.7h4" class="el"/>
<path d="M614.5,430 C623,431 623,433 614.5,433.5M636.5,428 C645,429 645,432 636.5,433M658.2,413 C667,415 667,420 658.2,422M680.2,383 C689,387 689,393 680.2,397M701.8,347 C712,353 712,361 701.8,367M723.5,337 C734,342 734,352 723.5,357" class="vl"/>
<g class="vl"><use href="#dm" x="618" y="431"/><use href="#dm" x="640" y="430"/><use href="#dm" x="662" y="416"/><use href="#dm" x="662" y="419"/><use href="#dm" x="684" y="388"/><use href="#dm" x="684" y="392"/><use href="#dm" x="706" y="353"/><use href="#dm" x="706" y="358"/><use href="#dm" x="728" y="343"/><use href="#dm" x="728" y="348"/></g>
<rect x="602" y="327" width="16" height="7.5" class="lt"/><text x="622" y="334" class="lg">Light</text>
<g class="tk" text-anchor="middle"><text x="615" y="442">3</text><text x="636" y="442">6</text><text x="654" y="442">12</text><text x="676" y="442">24</text><text x="697" y="442">36</text><text x="719" y="442">48</text></g>
<text x="667" y="451" text-anchor="middle" font-size="9.3" fill="#222">Molasses Wastewater (g L<tspan font-size="6" dy="-3">-1</tspan><tspan dy="3">)</tspan></text>
</svg>
</body></html>
